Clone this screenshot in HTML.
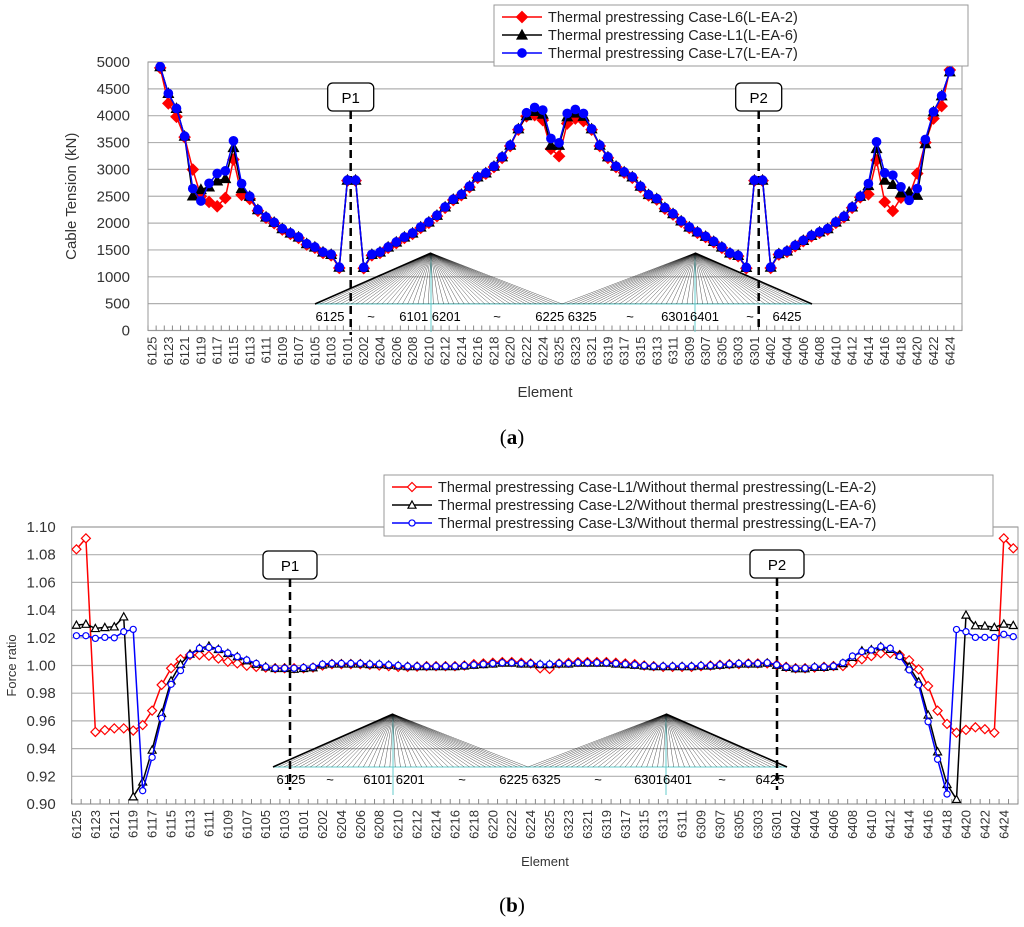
<!DOCTYPE html>
<html><head><meta charset="utf-8"><style>
html,body{margin:0;padding:0;background:#fff;}
svg{display:block;font-family:"Liberation Sans",sans-serif;}
</style></head><body>
<svg id="chart" width="1024" height="927" viewBox="0 0 1024 927" xmlns="http://www.w3.org/2000/svg">
<g id="gA"></g>
<g id="gB"></g>
<text x="512" y="444" text-anchor="middle" font-family="Liberation Serif,serif" font-size="21">(<tspan font-weight="bold">a</tspan>)</text>
<text x="512" y="912" text-anchor="middle" font-family="Liberation Serif,serif" font-size="21">(<tspan font-weight="bold">b</tspan>)</text>
</svg>
<script>
const tensionRed=[5300,4890,4229,3980,3600,2997,2500,2394,2313,2468,3184,2525,2450,2230,2100,2000,1880,1800,1725,1600,1540,1445,1400,1165,2790,2790,1160,1400,1445,1540,1630,1725,1800,1910,2005,2130,2285,2430,2520,2670,2845,2920,3045,3215,3435,3740,3990,4011,3918,3383,3246,3855,3948,3900,3740,3435,3215,3045,2940,2845,2670,2515,2440,2270,2160,2025,1910,1820,1740,1645,1540,1430,1385,1160,2790,2790,1165,1415,1465,1570,1665,1755,1820,1880,2005,2110,2285,2480,2537,3172,2394,2226,2475,2500,2923,3500,3948,4179,4850,5300];
const tensionBlack=[5300,4913,4415,4136,3619,2506,2625,2674,2786,2830,3407,2643,2500,2251,2114,2015,1897,1816,1741,1617,1555,1461,1418,1180,2800,2800,1175,1418,1461,1555,1648,1741,1816,1928,2021,2146,2301,2444,2537,2687,2861,2935,3060,3234,3452,3756,4000,4080,4030,3450,3450,3980,4050,3990,3756,3452,3234,3060,2954,2861,2687,2531,2456,2289,2177,2040,1928,1835,1754,1660,1555,1443,1399,1175,2800,2800,1180,1430,1480,1586,1679,1772,1835,1897,2021,2127,2301,2500,2700,3389,2799,2720,2562,2580,2519,3480,4073,4371,4819,5300];
const tensionBlue=[5300,4913,4415,4136,3619,2643,2412,2740,2923,2972,3532,2736,2500,2251,2114,2015,1897,1816,1741,1617,1555,1461,1418,1180,2800,2800,1175,1418,1461,1555,1648,1741,1816,1928,2021,2146,2301,2444,2537,2687,2861,2935,3060,3234,3452,3756,4055,4154,4104,3576,3495,4042,4117,4042,3756,3452,3234,3060,2954,2861,2687,2531,2456,2289,2177,2040,1928,1835,1754,1660,1555,1443,1399,1175,2800,2800,1180,1430,1480,1586,1679,1772,1835,1897,2021,2127,2301,2500,2736,3513,2935,2892,2674,2425,2643,3557,4073,4371,4819,5300];
const ratioRed=[1.0839,1.0918,0.952,0.9534,0.9546,0.9546,0.953,0.957,0.9674,0.986,0.998,1.0045,1.0076,1.0076,1.007,1.005,1.0027,1.0015,0.9998,0.999,0.9985,0.998,0.998,0.998,0.998,0.9985,1.0,1.001,1.001,1.001,1.001,1.0005,1.0,0.9995,0.999,0.999,0.9992,0.9995,0.9995,0.9995,0.9995,1.0,1.001,1.0015,1.002,1.0025,1.0025,1.002,1.0015,0.998,0.9975,1.0015,1.002,1.0025,1.0025,1.0025,1.0025,1.002,1.0015,1.001,1.0,0.9995,0.999,0.999,0.999,0.999,0.9995,1.0,1.0005,1.001,1.001,1.0015,1.0015,1.0015,1.0005,0.999,0.998,0.998,0.9985,0.999,0.9996,0.9996,1.002,1.0045,1.0068,1.0088,1.0088,1.0076,1.0038,0.9972,0.9852,0.9674,0.9578,0.9515,0.9535,0.9554,0.954,0.9515,1.0918,1.0846];
const ratioBlack=[1.0292,1.0299,1.0268,1.0275,1.028,1.0352,0.9053,0.916,0.939,0.9655,0.989,1.001,1.0083,1.0124,1.0141,1.0117,1.0088,1.0064,1.0036,1.001,0.999,0.998,0.998,0.9974,0.998,0.9985,1.0005,1.0012,1.0012,1.0012,1.0012,1.0008,1.0008,1.0003,0.9998,0.9993,0.9993,0.9993,0.9993,0.9993,0.9993,0.9998,1.0003,1.0008,1.0012,1.0018,1.0018,1.0012,1.0012,1.0008,1.0008,1.0012,1.0012,1.0018,1.0018,1.0018,1.0018,1.0012,1.0008,1.0003,0.9998,0.9993,0.9993,0.9993,0.9993,0.9993,0.9998,0.9998,1.0003,1.0008,1.0012,1.0012,1.0012,1.0018,1.0003,0.9988,0.9978,0.9978,0.9988,0.9988,0.9994,1.0015,1.006,1.0107,1.0115,1.0136,1.0118,1.0076,0.9991,0.9883,0.9643,0.9378,0.9142,0.9034,1.0365,1.0288,1.0286,1.0276,1.03,1.029];
const ratioBlue=[1.0215,1.0215,1.0196,1.0203,1.02,1.0244,1.0261,0.9096,0.9337,0.9619,0.9864,0.9963,1.0076,1.0124,1.013,1.0117,1.009,1.0064,1.004,1.0015,0.999,0.998,0.998,0.998,0.9985,0.999,1.001,1.0015,1.0015,1.0015,1.0015,1.001,1.001,1.0005,1.0,0.9995,0.9995,0.9995,0.9995,0.9995,0.9995,1.0,1.0005,1.001,1.0015,1.002,1.002,1.0015,1.0015,1.001,1.001,1.0015,1.0015,1.002,1.002,1.002,1.002,1.0015,1.001,1.0005,1.0,0.9995,0.9995,0.9995,0.9995,0.9995,1.0,1.0,1.0005,1.001,1.0015,1.0015,1.0015,1.002,1.0005,0.999,0.998,0.998,0.999,0.999,0.9996,1.002,1.0068,1.010,1.0112,1.0136,1.0124,1.0064,0.9968,0.986,0.9594,0.9323,0.9072,1.026,1.0244,1.0203,1.0203,1.0203,1.0225,1.0208];
const tensionTicks=[0,500,1000,1500,2000,2500,3000,3500,4000,4500,5000];
const ratioTicks=[0.90,0.92,0.94,0.96,0.98,1.00,1.02,1.04,1.06,1.08,1.10];
const elements=[];
for(let i=0;i<25;i++)elements.push(String(6125-i));
for(let i=0;i<25;i++)elements.push(String(6201+i));
for(let i=0;i<25;i++)elements.push(String(6325-i));
for(let i=0;i<25;i++)elements.push(String(6401+i));

const NS="http://www.w3.org/2000/svg";
function mk(parent,tag,attrs,text){const e=document.createElementNS(NS,tag);for(const k in attrs)e.setAttribute(k,attrs[k]);if(text!==undefined)e.textContent=text;parent.appendChild(e);return e;}

function marker(g,type,x,y,col,filled,s){
  let e;
  const fill=filled?col:"#fff";
  if(type==="d"){e=mk(g,"polygon",{points:`${x},${y-s} ${x+s},${y} ${x},${y+s} ${x-s},${y}`,fill:fill,stroke:col,"stroke-width":1.2});}
  else if(type==="t"){e=mk(g,"polygon",{points:`${x},${y-s} ${x+s},${y+s*0.8} ${x-s},${y+s*0.8}`,fill:fill,stroke:col,"stroke-width":1.2});}
  else {e=mk(g,"circle",{cx:x,cy:y,r:s*0.85,fill:fill,stroke:col,"stroke-width":1.2});}
  return e;
}

function drawChart(cfg){
  const g=document.getElementById(cfg.id);
  const {L,R,T,B,min,max}=cfg;
  const n=elements.length, w=(R-L)/n;
  const xs=i=>L+(i+0.5)*w;
  const ys=v=>B-(v-min)/(max-min)*(B-T);
  // grid
  cfg.ticks.forEach((t,k)=>{
    const y=ys(t);
    const gl=mk(g,"line",{x1:L,x2:R,y1:y,y2:y,stroke:"#b0b0b0","stroke-width":1.2});
    
    
    const tl=mk(g,"text",{x:L-cfg.labOff,y:y+5,"text-anchor":"end","font-size":cfg.yfs,fill:"#333"},cfg.fmt(t));
    
    
  });
  mk(g,"rect",{x:L,y:T,width:R-L,height:B-T,fill:"none",stroke:"#999","stroke-width":1});
  // ticks
  for(let i=0;i<=n;i++){const x=L+i*w;mk(g,"line",{x1:x,x2:x,y1:B,y2:B-5,stroke:"#888","stroke-width":1});}
  elements.forEach((lab,i)=>{
    if(i%2)return;
    const x=xs(i);
    const t=mk(g,"text",{x:0,y:0,transform:`translate(${x+4.5},${B+6}) rotate(-90)`,"text-anchor":"end","font-size":cfg.xfs,fill:"#333"},lab);
    
    
  });
  // bridge decoration
  const br=mk(g,"g",{});
  
  
  const d=cfg.bridge;
  mk(br,"line",{x1:d.x0,x2:d.x3,y1:d.deck,y2:d.deck,stroke:"#6cc",  "stroke-width":1});
  [d.a1,d.a2].forEach(ax=>mk(br,"line",{x1:ax,x2:ax,y1:d.apex,y2:d.deck+28,stroke:"#6cc","stroke-width":1}));
  const fan=(ax,from,to)=>{for(let k=0;k<=48;k++){const px=from+(to-from)*k/48;mk(br,"line",{x1:ax,y1:d.apex,x2:px,y2:d.deck,stroke:"#000","stroke-width":0.45,"stroke-opacity":0.75});}};
  fan(d.a1,d.x0,d.x1);fan(d.a2,d.x1,d.x3);
  mk(br,"line",{x1:d.x0,y1:d.deck,x2:d.a1,y2:d.apex,stroke:"#000","stroke-width":1.6});
  mk(br,"line",{x1:d.a2,y1:d.apex,x2:d.x3,y2:d.deck,stroke:"#000","stroke-width":1.6});
  d.labels.forEach(l=>mk(br,"text",{x:l[0],y:d.deck+17,"text-anchor":"middle","font-size":13,fill:"#000"},l[1]));
  // piers
  cfg.piers.forEach(p=>{
    const pg=mk(g,"g",{});
    
    
    mk(pg,"line",{x1:p[1],x2:p[1],y1:p[3],y2:p[4],stroke:"#000","stroke-width":2.5,"stroke-dasharray":"8,5"});
    mk(pg,"rect",{x:p[1]-p[2]/2,y:p[3]-28,width:p[2],height:28,rx:5,fill:"#fff",stroke:"#000","stroke-width":1.3});
    mk(pg,"text",{x:p[1],y:p[3]-8,"text-anchor":"middle","font-size":15,fill:"#000"},p[0]);
  });
  // series
  const clip=mk(g,"clipPath",{id:cfg.id+"clip"});
  mk(clip,"rect",{x:L,y:T,width:R-L,height:B-T+6});
  cfg.series.forEach(s=>{
    const sg=mk(g,"g",{"clip-path":`url(#${cfg.id}clip)`});
    
    
    const pts=s.data.map((v,i)=>`${xs(i).toFixed(1)},${ys(v).toFixed(1)}`).join(" ");
    const pl=mk(sg,"polyline",{points:pts,fill:"none",stroke:s.col,"stroke-width":1.5});
    
    
    s.data.forEach((v,i)=>{
      const m=marker(sg,s.m,xs(i),ys(v),s.col,cfg.filled,cfg.ms[s.m]);
      
      
    });
  });
  // titles
  const yt=mk(g,"text",{x:0,y:0,transform:`translate(${cfg.ytx},${(T+B)/2}) rotate(-90)`,"text-anchor":"middle","font-size":cfg.ytfs,fill:"#333"},cfg.ytitle);
  
  
  const xt=mk(g,"text",{x:cfg.xtx,y:cfg.xty,"text-anchor":"middle","font-size":cfg.xtfs,fill:"#333"},"Element");
  
  
  // legend
  const lg=mk(g,"g",{});
  
  
  const le=cfg.legend;
  mk(lg,"rect",{x:le.x,y:le.y,width:le.w,height:le.h,fill:"#fff",stroke:"#999","stroke-width":1});
  cfg.series.forEach((s,k)=>{
    const y=le.y+12+k*18;
    const eg=mk(lg,"g",{});
    
    
    mk(eg,"line",{x1:le.x+8,x2:le.x+48,y1:y,y2:y,stroke:s.col,"stroke-width":1.5});
    marker(eg,s.m,le.x+28,y,s.col,cfg.filled,cfg.ms[s.m]);
    mk(eg,"text",{x:le.x+54,y:y+5,"font-size":le.fs,fill:"#222"},s.label);
  });
}

drawChart({id:"gA",L:148,R:962,T:62,B:330.5,min:0,max:5000,ticks:tensionTicks,fmt:t=>String(t),labOff:18,yfs:15,xfs:13,filled:true,
  ms:{d:5.5,t:5,c:5},
  series:[{name:"series-l6",label:"Thermal prestressing Case-L6(L-EA-2)",data:tensionRed,col:"#f00",m:"d"},
          {name:"series-l1",label:"Thermal prestressing Case-L1(L-EA-6)",data:tensionBlack,col:"#000",m:"t"},
          {name:"series-l7",label:"Thermal prestressing Case-L7(L-EA-7)",data:tensionBlue,col:"#00f",m:"c"}],
  bridge:{x0:315,x1:562,x3:812,deck:304,apex:253,a1:431,a2:695,labels:[[330,"6125"],[371,"~"],[430,"6101 6201"],[497,"~"],[566,"6225 6325"],[630,"~"],[690,"63016401"],[750,"~"],[787,"6425"]]},
  piers:[["P1",350.7,46,111,335],["P2",758.7,46,111,330]],
  ytitle:"Cable Tension (kN)",ytx:76,ytfs:15,xtx:545,xty:397,xtfs:15,
  legend:{x:494,y:5,w:474,h:61,fs:14.5}});

drawChart({id:"gB",L:71.7,R:1018,T:527,B:804,min:0.9,max:1.1,ticks:ratioTicks,fmt:t=>t.toFixed(2),labOff:16,yfs:15,xfs:13,filled:false,
  ms:{d:4.5,t:4,c:3.6},
  series:[{name:"series-l1-ratio",label:"Thermal prestressing Case-L1/Without thermal prestressing(L-EA-2)",data:ratioRed,col:"#f00",m:"d"},
          {name:"series-l2-ratio",label:"Thermal prestressing Case-L2/Without thermal prestressing(L-EA-6)",data:ratioBlack,col:"#000",m:"t"},
          {name:"series-l3-ratio",label:"Thermal prestressing Case-L3/Without thermal prestressing(L-EA-7)",data:ratioBlue,col:"#00f",m:"c"}],
  bridge:{x0:273,x1:528,x3:787,deck:767,apex:714,a1:393,a2:666,labels:[[291,"6125"],[330,"~"],[394,"6101 6201"],[462,"~"],[530,"6225 6325"],[598,"~"],[663,"63016401"],[722,"~"],[770,"6425"]]},
  piers:[["P1",290,54,579,790],["P2",777,54,578,790]],
  ytitle:"Force ratio",ytx:16,ytfs:13,xtx:545,xty:866,xtfs:13,
  legend:{x:384,y:475,w:609,h:61,fs:14.5}});
</script>
</body></html>
